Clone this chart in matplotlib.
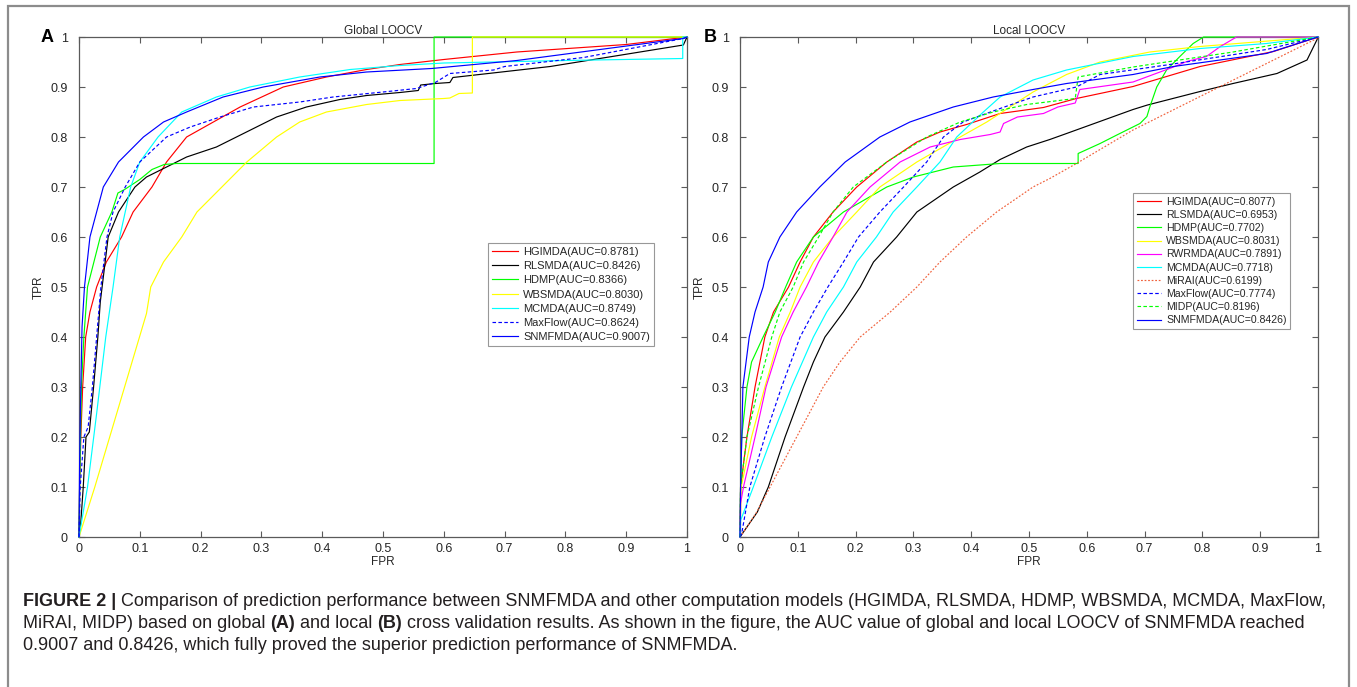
import matplotlib
matplotlib.use('Agg')
import matplotlib.pyplot as plt
from matplotlib.patches import Rectangle

plt.rcParams['font.family'] = ['Liberation Sans', 'DejaVu Sans']

# ---------------------------------------------------------------------------
# DATA
# ---------------------------------------------------------------------------
tick_vals = [0, 0.1, 0.2, 0.3, 0.4, 0.5, 0.6, 0.7, 0.8, 0.9, 1]
tick_labels = ['0', '0.1', '0.2', '0.3', '0.4', '0.5', '0.6', '0.7', '0.8', '0.9', '1']

# Panel A - global LOOCV
a_hgimda_fpr = [0, 0.001, 0.003, 0.006, 0.011, 0.018, 0.029, 0.045, 0.07, 0.089, 0.12, 0.144,
                0.177, 0.221, 0.265, 0.336, 0.407, 0.473, 0.528, 0.6, 0.72, 0.9, 1.0]
a_hgimda_tpr = [0, 0.1, 0.2, 0.3, 0.4, 0.45, 0.5, 0.55, 0.6, 0.65, 0.7, 0.75,
                0.8, 0.83, 0.86, 0.9, 0.92, 0.935, 0.945, 0.955, 0.97, 0.985, 1.0]

a_rlsmda_fpr = [0, 0.003, 0.007, 0.0115, 0.017, 0.024, 0.031, 0.035, 0.038, 0.048, 0.065, 0.092,
                0.111, 0.144, 0.177, 0.226, 0.259, 0.292, 0.325, 0.374, 0.429, 0.473, 0.528,
                0.558, 0.562, 0.586, 0.61, 0.615, 0.775, 0.994, 1.0]
a_rlsmda_tpr = [0, 0.03, 0.1, 0.2, 0.21, 0.3, 0.4, 0.47, 0.5, 0.6, 0.65, 0.7,
                0.72, 0.74, 0.76, 0.78, 0.8, 0.82, 0.84, 0.86, 0.875, 0.883, 0.889,
                0.893, 0.904, 0.907, 0.909, 0.919, 0.941, 0.984, 1.0]

a_hdmp_fpr = [0, 0.001, 0.004, 0.008, 0.014, 0.035, 0.054, 0.064, 0.075, 0.1, 0.12, 0.14, 0.16,
              0.584, 0.584, 1.0]
a_hdmp_tpr = [0, 0.1, 0.3, 0.4, 0.5, 0.6, 0.65, 0.688, 0.695, 0.715, 0.735, 0.745, 0.747,
              0.747, 1.0, 1.0]

a_wbsmda_fpr = [0, 0.026, 0.062, 0.111, 0.118, 0.139, 0.169, 0.194, 0.235, 0.276, 0.325, 0.363,
                0.407, 0.473, 0.528, 0.6, 0.61, 0.625, 0.647, 0.647, 1.0]
a_wbsmda_tpr = [0, 0.1, 0.247, 0.447, 0.5, 0.55, 0.6, 0.65, 0.7, 0.75, 0.8, 0.83,
                0.85, 0.865, 0.873, 0.877, 0.878, 0.887, 0.888, 1.0, 1.0]

a_mcmda_fpr = [0, 0.014, 0.029, 0.044, 0.056, 0.067, 0.085, 0.1, 0.13, 0.169, 0.226, 0.281,
               0.363, 0.446, 0.528, 0.6, 0.8, 0.993, 0.993, 1.0]
a_mcmda_tpr = [0, 0.1, 0.247, 0.4, 0.5, 0.6, 0.7, 0.75, 0.8, 0.85, 0.88, 0.9,
               0.92, 0.935, 0.943, 0.948, 0.953, 0.957, 1.0, 1.0]

a_maxflow_fpr = [0, 0.001, 0.002, 0.008, 0.015, 0.022, 0.029, 0.036, 0.046, 0.056, 0.076, 0.1,
                 0.144, 0.183, 0.232, 0.287, 0.363, 0.418, 0.5, 0.555, 0.586, 0.61, 0.682,
                 0.7, 0.83, 0.994, 1.0]
a_maxflow_tpr = [0, 0.05, 0.1, 0.2, 0.22, 0.3, 0.4, 0.5, 0.6, 0.65, 0.7, 0.75,
                 0.8, 0.82, 0.84, 0.86, 0.87, 0.88, 0.89, 0.897, 0.909, 0.927, 0.934,
                 0.941, 0.959, 0.997, 1.0]

a_snmfmda_fpr = [0, 0.001, 0.003, 0.005, 0.009, 0.018, 0.04, 0.065, 0.106, 0.139, 0.177, 0.237,
                 0.303, 0.396, 0.473, 0.58, 0.72, 0.994, 1.0]
a_snmfmda_tpr = [0, 0.15, 0.3, 0.42, 0.5, 0.6, 0.7, 0.75, 0.8, 0.83, 0.85, 0.88,
                 0.9, 0.92, 0.93, 0.937, 0.953, 0.997, 1.0]

# Panel B - local LOOCV
b_hgimda_fpr = [0, 0.001, 0.012, 0.026, 0.043, 0.058, 0.084, 0.104, 0.127, 0.161, 0.202, 0.254,
                0.306, 0.346, 0.392, 0.45, 0.525, 0.582, 0.68, 0.796, 0.923, 1.0]
b_hgimda_tpr = [0, 0.1, 0.2, 0.3, 0.4, 0.45, 0.5, 0.55, 0.6, 0.65, 0.7, 0.75,
                0.79, 0.81, 0.825, 0.847, 0.859, 0.877, 0.901, 0.941, 0.971, 1.0]

b_rlsmda_fpr = [0, 0.012, 0.03, 0.049, 0.078, 0.11, 0.127, 0.147, 0.179, 0.208, 0.231, 0.271,
                0.306, 0.369, 0.415, 0.45, 0.496, 0.536, 0.565, 0.68, 0.705, 0.796, 0.853,
                0.929, 0.981, 0.998, 1.0]
b_rlsmda_tpr = [0, 0.02, 0.05, 0.1, 0.2, 0.3, 0.35, 0.4, 0.45, 0.5, 0.55, 0.6,
                0.65, 0.7, 0.73, 0.755, 0.78, 0.795, 0.807, 0.855, 0.864, 0.891, 0.907,
                0.927, 0.954, 0.994, 1.0]

b_hdmp_fpr = [0, 0.001, 0.003, 0.012, 0.02, 0.04, 0.061, 0.079, 0.098, 0.127, 0.179, 0.254,
              0.3, 0.369, 0.45, 0.585, 0.585, 0.623, 0.652, 0.692, 0.704, 0.709, 0.721,
              0.738, 0.761, 0.784, 0.802, 1.0]
b_hdmp_tpr = [0, 0.1, 0.2, 0.3, 0.35, 0.4, 0.45, 0.5, 0.55, 0.6, 0.65, 0.7,
              0.72, 0.74, 0.747, 0.747, 0.767, 0.787, 0.804, 0.827, 0.841, 0.86, 0.9,
              0.934, 0.961, 0.987, 1.0, 1.0]

b_wbsmda_fpr = [0, 0.002, 0.02, 0.043, 0.068, 0.087, 0.104, 0.127, 0.161, 0.202, 0.242, 0.306,
                0.381, 0.427, 0.467, 0.507, 0.565, 0.623, 0.709, 0.796, 1.0]
b_wbsmda_tpr = [0, 0.1, 0.2, 0.3, 0.4, 0.45, 0.5, 0.55, 0.6, 0.65, 0.7, 0.75,
                0.8, 0.83, 0.86, 0.89, 0.925, 0.95, 0.97, 0.981, 1.0]

b_rwrmda_fpr = [0, 0.001, 0.006, 0.026, 0.045, 0.072, 0.092, 0.115, 0.136, 0.161, 0.185, 0.225,
                0.277, 0.329, 0.381, 0.433, 0.45, 0.456, 0.48, 0.525, 0.55, 0.58, 0.588,
                0.68, 0.75, 0.773, 0.807, 0.831, 0.859, 1.0]
b_rwrmda_tpr = [0, 0.067, 0.1, 0.2, 0.3, 0.4, 0.45, 0.5, 0.55, 0.6, 0.65, 0.7,
                0.75, 0.78, 0.795, 0.805, 0.81, 0.827, 0.84, 0.847, 0.86, 0.868, 0.895,
                0.91, 0.94, 0.951, 0.961, 0.981, 1.0, 1.0]

b_mcmda_fpr = [0, 0.001, 0.023, 0.055, 0.089, 0.127, 0.15, 0.179, 0.202, 0.236, 0.265, 0.306,
               0.346, 0.375, 0.421, 0.45, 0.507, 0.565, 0.68, 0.796, 0.911, 1.0]
b_mcmda_tpr = [0, 0.033, 0.1, 0.2, 0.3, 0.4, 0.45, 0.5, 0.55, 0.6, 0.65, 0.7,
               0.75, 0.8, 0.85, 0.88, 0.914, 0.934, 0.961, 0.977, 0.987, 1.0]

b_mirai_fpr = [0, 0.012, 0.029, 0.052, 0.098, 0.144, 0.173, 0.208, 0.26, 0.306, 0.346, 0.392,
               0.444, 0.507, 0.536, 0.582, 0.68, 0.796, 0.911, 0.998, 1.0]
b_mirai_tpr = [0, 0.02, 0.05, 0.1, 0.2, 0.3, 0.35, 0.4, 0.45, 0.5, 0.55, 0.6,
               0.65, 0.7, 0.717, 0.747, 0.814, 0.881, 0.947, 0.997, 1.0]

b_maxflow_fpr = [0, 0.003, 0.017, 0.043, 0.072, 0.104, 0.127, 0.152, 0.179, 0.205, 0.242, 0.283,
                 0.323, 0.352, 0.386, 0.45, 0.507, 0.582, 0.623, 0.738, 0.911, 1.0]
b_maxflow_tpr = [0, 0.007, 0.1, 0.2, 0.3, 0.4, 0.45, 0.5, 0.55, 0.6, 0.65, 0.7,
                 0.75, 0.8, 0.83, 0.857, 0.88, 0.9, 0.925, 0.944, 0.975, 1.0]

b_midp_fpr = [0, 0.001, 0.012, 0.032, 0.055, 0.069, 0.092, 0.11, 0.136, 0.161, 0.196, 0.254,
              0.323, 0.381, 0.438, 0.496, 0.58, 0.585, 0.68, 0.853, 1.0]
b_midp_tpr = [0, 0.1, 0.2, 0.3, 0.4, 0.45, 0.5, 0.55, 0.6, 0.65, 0.7, 0.75,
              0.8, 0.83, 0.85, 0.865, 0.877, 0.92, 0.94, 0.97, 1.0]

b_snmfmda_fpr = [0, 0.001, 0.003, 0.005, 0.016, 0.026, 0.04, 0.049, 0.069, 0.098, 0.138, 0.182,
                 0.242, 0.294, 0.369, 0.438, 0.507, 0.565, 0.68, 0.75, 0.911, 1.0]
b_snmfmda_tpr = [0, 0.1, 0.194, 0.3, 0.4, 0.45, 0.5, 0.55, 0.6, 0.65, 0.7, 0.75,
                 0.8, 0.83, 0.86, 0.88, 0.895, 0.907, 0.925, 0.941, 0.967, 1.0]

# (label, fpr, tpr, colour, dash)
panel_a = [
    ('HGIMDA(AUC=0.8781)', a_hgimda_fpr, a_hgimda_tpr, '#ff0000', None),
    ('RLSMDA(AUC=0.8426)', a_rlsmda_fpr, a_rlsmda_tpr, '#000000', None),
    ('HDMP(AUC=0.8366)', a_hdmp_fpr, a_hdmp_tpr, '#00ff00', None),
    ('WBSMDA(AUC=0.8030)', a_wbsmda_fpr, a_wbsmda_tpr, '#ffff00', None),
    ('MCMDA(AUC=0.8749)', a_mcmda_fpr, a_mcmda_tpr, '#00ffff', None),
    ('MaxFlow(AUC=0.8624)', a_maxflow_fpr, a_maxflow_tpr, '#0000ff', (3, 2)),
    ('SNMFMDA(AUC=0.9007)', a_snmfmda_fpr, a_snmfmda_tpr, '#0000ff', None),
]
panel_b = [
    ('HGIMDA(AUC=0.8077)', b_hgimda_fpr, b_hgimda_tpr, '#ff0000', None),
    ('RLSMDA(AUC=0.6953)', b_rlsmda_fpr, b_rlsmda_tpr, '#000000', None),
    ('HDMP(AUC=0.7702)', b_hdmp_fpr, b_hdmp_tpr, '#00ff00', None),
    ('WBSMDA(AUC=0.8031)', b_wbsmda_fpr, b_wbsmda_tpr, '#ffff00', None),
    ('RWRMDA(AUC=0.7891)', b_rwrmda_fpr, b_rwrmda_tpr, '#ff00ff', None),
    ('MCMDA(AUC=0.7718)', b_mcmda_fpr, b_mcmda_tpr, '#00ffff', None),
    ('MiRAI(AUC=0.6199)', b_mirai_fpr, b_mirai_tpr, '#f0603a', (1.5, 1.5)),
    ('MaxFlow(AUC=0.7774)', b_maxflow_fpr, b_maxflow_tpr, '#0000ff', (3, 2)),
    ('MIDP(AUC=0.8196)', b_midp_fpr, b_midp_tpr, '#00ff00', (3, 2)),
    ('SNMFMDA(AUC=0.8426)', b_snmfmda_fpr, b_snmfmda_tpr, '#0000ff', None),
]

caption_lines = [
    [('FIGURE 2 |', 'bold'),
     (' Comparison of prediction performance between SNMFMDA and other computation models '
      '(HGIMDA, RLSMDA, HDMP, WBSMDA, MCMDA, MaxFlow,', 'normal')],
    [('MiRAI, MIDP) based on global ', 'normal'), ('(A)', 'bold'), (' and local ', 'normal'),
     ('(B)', 'bold'),
     (' cross validation results. As shown in the figure, the AUC value of global and local '
      'LOOCV of SNMFMDA reached', 'normal')],
    [('0.9007 and 0.8426, which fully proved the superior prediction performance of SNMFMDA.',
      'normal')],
]

# ---------------------------------------------------------------------------
# FIGURE
# ---------------------------------------------------------------------------
W, H = 1357, 687
fig = plt.figure(figsize=(W / 100, H / 100), dpi=100)

# outer frame
fig.patches.append(Rectangle((8 / W, -0.05), 1341 / W, 1.05 - 6 / H,
                             transform=fig.transFigure, fill=False,
                             edgecolor='#8c8c8c', linewidth=1.6))

SPINE = '#5a5a5a'
TXT = '#262626'


def draw_panel(rect, curves, title, letter, legend_anchor, leg_size, leg_space):
    ax = fig.add_axes(rect)
    for label, fpr, tpr, col, dash in curves:
        line, = ax.plot(fpr, tpr, color=col, linewidth=0.85, label=label,
                        zorder=3, clip_on=False)
        if dash is not None:
            line.set_dashes(dash)
    ax.set_xlim(0, 1)
    ax.set_ylim(0, 1)
    ax.set_xticks(tick_vals)
    ax.set_yticks(tick_vals)
    ax.set_xticklabels(tick_labels)
    ax.set_yticklabels(tick_labels)
    ax.tick_params(direction='in', length=4, width=0.8, color=SPINE,
                   labelsize=9, labelcolor=TXT, top=True, right=True)
    ax.tick_params(axis='x', pad=4)
    ax.tick_params(axis='y', pad=8)
    for sp in ax.spines.values():
        sp.set_color(SPINE)
        sp.set_linewidth(0.9)
    ax.set_xlabel('FPR', fontsize=8.5, color=TXT, labelpad=1)
    ax.set_ylabel('TPR', fontsize=8.5, color=TXT, labelpad=4)
    ax.set_title(title, fontsize=8.5, color=TXT, pad=2)
    ax.text(-0.052, 1.0, letter, transform=ax.transAxes, fontsize=13,
            fontweight='bold', ha='center', va='center')
    leg = ax.legend(loc='upper left', bbox_to_anchor=legend_anchor, fontsize=leg_size,
                    frameon=True, fancybox=False, edgecolor='#7f7f7f',
                    borderpad=0.35, labelspacing=leg_space, handlelength=2.3,
                    handletextpad=0.5, borderaxespad=0)
    leg.get_frame().set_linewidth(0.8)
    for t in leg.get_texts():
        t.set_color(TXT)
    return ax


draw_panel([79 / W, 1 - 537 / H, 608 / W, 500 / H], panel_a, 'Global LOOCV', 'A',
           (0.673, 0.588), 8, 0.38)
draw_panel([740 / W, 1 - 537 / H, 578 / W, 500 / H], panel_b, 'Local LOOCV', 'B',
           (0.68, 0.688), 7.6, 0.3)

# caption with mixed bold / normal runs
fig.canvas.draw()
renderer = fig.canvas.get_renderer()
y_px = [601, 623.5, 646]
for runs, yp in zip(caption_lines, y_px):
    x = 23 / W
    for s, weight in runs:
        t = fig.text(x, 1 - yp / H, s, fontsize=13, fontweight=weight,
                     color='#231f20', va='center', ha='left')
        bb = t.get_window_extent(renderer)
        x += bb.width / W

fig.savefig('out.png', dpi=100)
